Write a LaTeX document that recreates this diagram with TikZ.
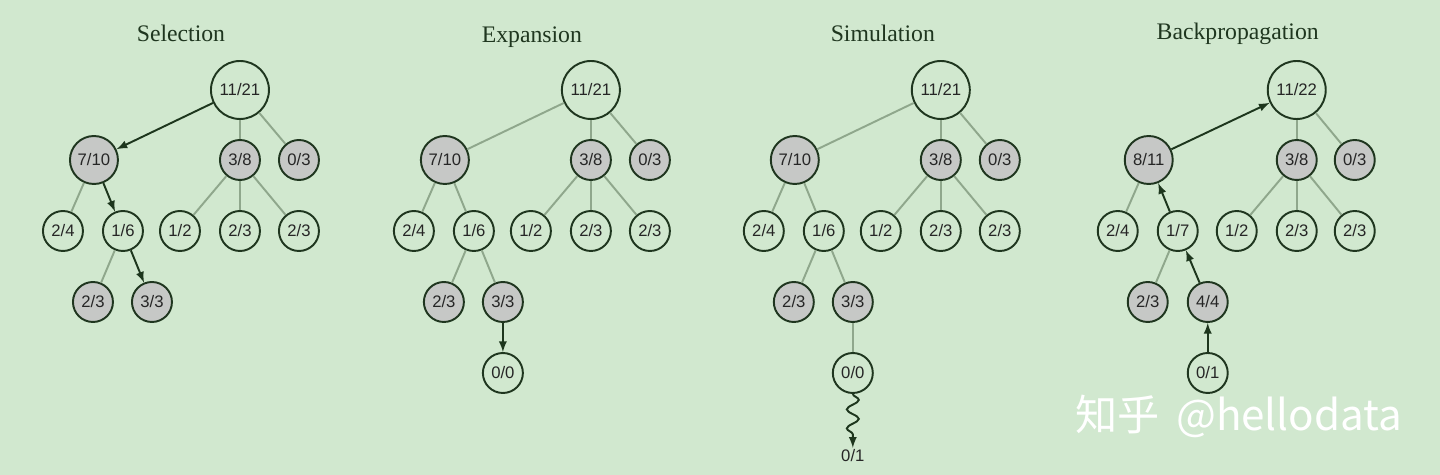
\documentclass[tikz,border=0pt]{standalone}
\usepackage{fontspec}
\setmainfont{Liberation Serif}
\setsansfont{Liberation Sans}
\newfontfamily\cjk{Noto Sans CJK SC}
\usetikzlibrary{%
  arrows,%
  decorations.pathmorphing%
}
\tikzset{>=latex}

\definecolor{bg}{HTML}{D1E8CF}
\definecolor{ring}{HTML}{1F361F}
\definecolor{edgegray}{HTML}{8FA78C}
\definecolor{walkcol}{HTML}{1D361D}
\definecolor{visited}{HTML}{C6C8C6}

\tikzset{
  leaf/.style={circle,draw=ring,line width=1.1pt,minimum size=0.8cm,inner sep=0pt,
    font=\sffamily\fontsize{9.5}{10}\selectfont,text=black!85},
  hit/.style={leaf,fill=visited},
  rootnode/.style={leaf,minimum size=1.16cm},
  widenode/.style={hit,minimum size=0.96cm},
  tedge/.style={edgegray,line width=1.1pt},
  walk/.style={walkcol,line width=1.1pt,->},
  title/.style={anchor=base,font=\fontsize{13.5}{14}\selectfont,text=ring}
}

\begin{document}
\begin{tikzpicture}[x=0.02cm,y=-0.02cm]
    \fill[bg] (0,0) rectangle (1440,475);
    \useasboundingbox (0,0) rectangle (1440,475);
    % Selection
    \begin{scope}[xshift=4.8cm]
      \node[title] (stitle) at (-59,42) {Selection};
      \node[rootnode] (sroot) at (0,90) {11/21};
      \node[widenode] (sa) at (-146,160) {7/10};
      \node[hit] (sb) at (0,160) {3/8};
      \node[hit] (sc) at (59,160) {0/3};
      \node[leaf] (saa) at (-177,231) {2/4};
      \node[leaf] (sab) at (-117,231) {1/6};
      \node[leaf] (sba) at (-60,231) {1/2};
      \node[leaf] (sbb) at (0,231) {2/3};
      \node[leaf] (sbc) at (59,231) {2/3};
      \node[hit] (saba) at (-147,302) {2/3};
      \node[hit] (sabb) at (-88,302) {3/3};
      \draw[tedge] (sroot) -- (sb);
      \draw[tedge] (sroot) -- (sc);
      \draw[tedge] (sa) -- (saa);
      \draw[tedge] (sb) -- (sba);
      \draw[tedge] (sb) -- (sbb);
      \draw[tedge] (sb) -- (sbc);
      \draw[tedge] (sab) -- (saba);
      \draw[walk] (sroot) -- (sa);
      \draw[walk] (sa) -- (sab);
      \draw[walk] (sab) -- (sabb);
    \end{scope}
    % Expansion
    \begin{scope}[xshift=11.82cm]
      \node[title] (etitle) at (-59,43) {Expansion};
      \node[rootnode] (eroot) at (0,90) {11/21};
      \node[widenode] (ea) at (-146,160) {7/10};
      \node[hit] (eb) at (0,160) {3/8};
      \node[hit] (ec) at (59,160) {0/3};
      \node[leaf] (eaa) at (-177,231) {2/4};
      \node[leaf] (eab) at (-117,231) {1/6};
      \node[leaf] (eba) at (-60,231) {1/2};
      \node[leaf] (ebb) at (0,231) {2/3};
      \node[leaf] (ebc) at (59,231) {2/3};
      \node[hit] (eaba) at (-147,302) {2/3};
      \node[hit] (eabb) at (-88,302) {3/3};
      \node[leaf] (enew) at (-88,373) {0/0};
      \draw[tedge] (eroot) -- (ea);
      \draw[tedge] (eroot) -- (eb);
      \draw[tedge] (eroot) -- (ec);
      \draw[tedge] (ea) -- (eaa);
      \draw[tedge] (ea) -- (eab);
      \draw[tedge] (eb) -- (eba);
      \draw[tedge] (eb) -- (ebb);
      \draw[tedge] (eb) -- (ebc);
      \draw[tedge] (eab) -- (eaba);
      \draw[tedge] (eab) -- (eabb);
      \draw[walk] (eabb) -- (enew);
    \end{scope}
    % Simulation
    \begin{scope}[xshift=18.82cm]
      \node[title] (mtitle) at (-58,42) {Simulation};
      \node[rootnode] (mroot) at (0,90) {11/21};
      \node[widenode] (ma) at (-146,160) {7/10};
      \node[hit] (mb) at (0,160) {3/8};
      \node[hit] (mc) at (59,160) {0/3};
      \node[leaf] (maa) at (-177,231) {2/4};
      \node[leaf] (mab) at (-117,231) {1/6};
      \node[leaf] (mba) at (-60,231) {1/2};
      \node[leaf] (mbb) at (0,231) {2/3};
      \node[leaf] (mbc) at (59,231) {2/3};
      \node[hit] (maba) at (-147,302) {2/3};
      \node[hit] (mabb) at (-88,302) {3/3};
      \node[leaf] (mnew) at (-88,373) {0/0};
      \node[font=\sffamily\fontsize{9.5}{10}\selectfont,text=black!85,inner sep=1pt] (mres) at (-88,456) {0/1};
      \draw[tedge] (mroot) -- (ma);
      \draw[tedge] (mroot) -- (mb);
      \draw[tedge] (mroot) -- (mc);
      \draw[tedge] (ma) -- (maa);
      \draw[tedge] (ma) -- (mab);
      \draw[tedge] (mb) -- (mba);
      \draw[tedge] (mb) -- (mbb);
      \draw[tedge] (mb) -- (mbc);
      \draw[tedge] (mab) -- (maba);
      \draw[tedge] (mab) -- (mabb);
      \draw[tedge] (mabb) -- (mnew);
      \draw[walk,decorate,decoration={snake,amplitude=0.12cm,segment length=0.38cm,post length=1.5mm}]
        (mnew) -- (mres);
    \end{scope}
    % Backpropagation
    \begin{scope}[xshift=25.94cm]
      \node[title] (btitle) at (-59,40) {Backpropagation};
      \node[rootnode] (broot) at (0,90) {11/22};
      \node[widenode] (ba) at (-148,160) {8/11};
      \node[hit] (bb) at (0,160) {3/8};
      \node[hit] (bc) at (58,160) {0/3};
      \node[leaf] (baa) at (-179,231) {2/4};
      \node[leaf] (bab) at (-119,231) {1/7};
      \node[leaf] (bba) at (-60,231) {1/2};
      \node[leaf] (bbb) at (0,231) {2/3};
      \node[leaf] (bbc) at (58,231) {2/3};
      \node[hit] (baba) at (-149,302) {2/3};
      \node[hit] (babb) at (-89,302) {4/4};
      \node[leaf] (bnew) at (-89,373) {0/1};
      \draw[tedge] (broot) -- (bb);
      \draw[tedge] (broot) -- (bc);
      \draw[tedge] (ba) -- (baa);
      \draw[tedge] (bb) -- (bba);
      \draw[tedge] (bb) -- (bbb);
      \draw[tedge] (bb) -- (bbc);
      \draw[tedge] (bab) -- (baba);
      \draw[walk] (bnew) -- (babb);
      \draw[walk] (babb) -- (bab);
      \draw[walk] (bab) -- (ba);
      \draw[walk] (ba) -- (broot);
    \end{scope}
    % watermark
    \node[anchor=base west,inner sep=0pt,text=white,font=\cjk\fontsize{24}{25}\selectfont]
      (wm) at (1075,431) {知乎\ \,@hellodata};
\end{tikzpicture}
\end{document}
